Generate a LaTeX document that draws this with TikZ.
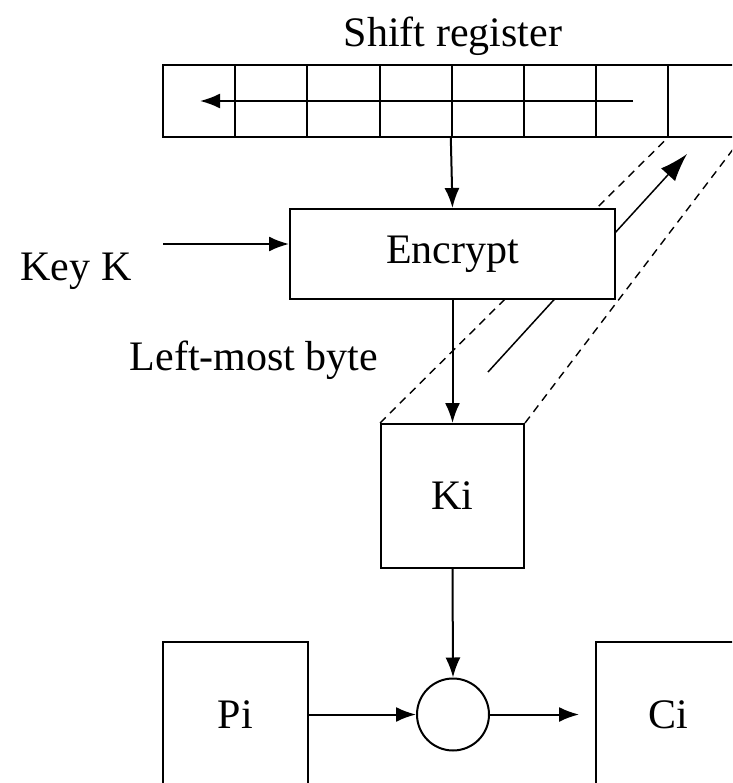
\documentclass[tikz,border=0pt]{standalone}
\usepackage{fontspec}
\setmainfont{Liberation Serif}
\usetikzlibrary{arrows.meta,calc}
\tikzstyle{block}=[rectangle,draw,fill=white,line width=2pt,inner sep=0pt]
\tikzstyle{cell}=[rectangle,draw,line width=2pt,minimum width=72.2pt,minimum height=72pt,inner sep=0pt]
\tikzstyle{edge}=[draw,line width=2pt,-{Latex[length=20pt,width=15pt]}]
\tikzstyle{feed}=[draw,line width=1.4pt,dash pattern=on 8pt off 6pt]
\tikzstyle{back}=[draw,line width=1.5pt,-{Latex[length=28pt,width=19pt]}]
\tikzstyle{caption}=[inner sep=0pt,anchor=base]

\begin{document}
\begin{tikzpicture}[x=1pt,y=-1pt,font=\fontsize{42}{50}\selectfont]
    \useasboundingbox (0,0) rectangle (732,783);
    \clip (0,0) rectangle (732,783);

    % shift register cells
    \foreach \i in {0,...,7}
        \node[cell] (r\i) at (163+72.2*\i+36.1,101) {};
    \node[caption] (title) at (453,47) {Shift register};
    \coordinate (regtail) at (633,101);
    \coordinate (reghead) at (200,101);
    \path[edge] (regtail) -- (reghead);

    % output byte and its way back into the register
    \node[block,minimum width=143pt,minimum height=144pt] (ki) at (452.5,496) {Ki};
    \path[feed] (ki.north west) -- (r7.south west);
    \path[feed] (ki.north east) -- (r7.south east);
    \coordinate (backtail) at (488,372);
    \coordinate (backhead) at (687,154);
    \path[back] (backtail) -- (backhead);

    \node[block,minimum width=325pt,minimum height=90pt] (enc) at (452.5,254) {Encrypt};
    \node[caption] (keyk) at (76,280) {Key K};
    \coordinate (keyin) at (163,244);
    \node[caption] (lmb) at (254,370) {Left-most byte};

    \foreach \pos/ \name in {{(235.5,714.5)/Pi},{(668.5,714.5)/Ci}}
        \node[block,minimum size=145pt] (\name) at \pos {\name};
    \node[circle,draw,line width=2pt,minimum size=72pt,inner sep=0pt] (xor) at (453,714.5) {};

    % connectors
    \path[edge] (r4.south west) -- (enc.north);
    \path[edge] (keyin) -- (keyin -| enc.west);
    \path[edge] (enc.south) -- (ki.north);
    \path[edge] (ki.south) -- (xor.north);
    \path[edge] (Pi.east) -- (xor.west);
    \path[edge, shorten >=16pt] (xor.east) -- (Ci.west);
\end{tikzpicture}
\end{document}
